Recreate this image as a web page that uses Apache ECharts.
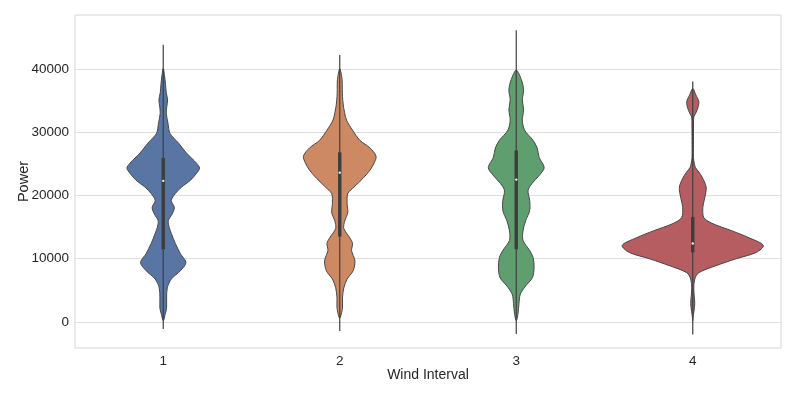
<!DOCTYPE html>
<html>
<head>
<meta charset="utf-8">
<script src="https://cdn.jsdelivr.net/npm/echarts@6/dist/echarts.min.js"></script>
<style>html,body{margin:0;padding:0;background:#fff;}#main{width:797px;height:399px;}</style>
</head>
<body>
<div id="main"></div>
<script>
const categories = ['1', '2', '3', '4'];
const yTicks = [0, 10000, 20000, 30000, 40000];
const colors = ['#5875a4', '#cc8963', '#5f9e6e', '#b55d60'];

// violin profiles: power value and relative density (70 = widest)
const violin1Power = [40100, 39000, 37500, 36200, 35100, 34000, 33000, 31400, 29800, 28300, 26700, 25100, 24300, 23500, 22400, 21300, 20300, 19200, 18100, 17100, 16000, 14900, 14000, 12400, 10800, 9400, 8100, 6800, 5400, 3800, 2200, 1300, 200];
const violin1Density = [0, 1.2, 2.3, 3.0, 4.3, 3.5, 3.0, 4.7, 6.7, 15, 23, 33, 36, 33, 27, 18, 12, 8, 11, 9, 5, 6, 8, 12, 17, 22.5, 17, 8, 4, 3.3, 3.3, 2, 0];

const violin2Power = [40000, 38300, 36700, 35600, 34300, 33500, 31900, 30300, 28700, 27500, 26200, 25100, 24000, 22700, 21300, 20300, 18700, 17300, 16000, 14800, 13300, 12400, 11300, 9700, 8100, 6800, 5400, 3800, 2200, 600];
const violin2Density = [0, 2.3, 2.5, 2.7, 3.5, 4.3, 6.7, 12.7, 20, 30, 36, 34, 30, 23, 14, 8, 7.3, 8, 5, 4, 10, 12.7, 11.7, 15, 13.3, 7.3, 4, 2.7, 2.7, 0];

const violin3Power = [39800, 38300, 36700, 35100, 33500, 31900, 30300, 28700, 27500, 26000, 24400, 23200, 21900, 20800, 19200, 17600, 16000, 14400, 12900, 11300, 10200, 8600, 7000, 5700, 4400, 2900, 1300, 200];
const violin3Density = [0, 5, 7.3, 6, 7.3, 6, 8.3, 16.7, 20.7, 22.7, 27.7, 23, 15.7, 11.7, 13.3, 13.3, 9.3, 6.7, 6.7, 13.3, 16.7, 17.7, 16, 9.3, 4, 2.7, 1.7, 0];

const violin4Power = [36900, 35900, 34800, 33800, 33000, 32400, 31100, 28700, 26000, 25100, 24400, 23700, 22900, 21300, 19700, 18100, 16500, 15600, 14400, 13300, 12100, 11000, 10000, 8900, 7800, 6800, 5400, 4100, 2900, 1700, 1000, 200];
const violin4Density = [0, 3, 6, 5, 3, 1, 0.8, 0.7, 0.7, 1.5, 2.7, 6, 9.3, 13.3, 12, 10, 11, 19, 39, 56, 70, 63, 43, 23, 6, 2, 1, 1.5, 2, 1.2, 0.5, 0];

const boxQ1 = [11500, 13500, 11500, 11000];
const boxMedian = [22300, 23600, 22500, 12400];
const boxQ3 = [25900, 26800, 27100, 16600];
const whiskerLow = [-1100, -1400, -1900, -1950];
const whiskerHigh = [43800, 42200, 46100, 38000];

const profiles = [
  [violin1Power, violin1Density],
  [violin2Power, violin2Density],
  [violin3Power, violin3Density],
  [violin4Power, violin4Density]
];

const FONT = 'Liberation Sans, Arial, Helvetica, sans-serif';

function renderItem(params, api) {
  const i = params.dataIndex;
  const pw = profiles[i][0], dens = profiles[i][1];
  const cx = api.coord([i, 0])[0];
  const band = api.size([1, 0])[0];
  const scale = 0.4 * band / 70;
  const right = [], left = [];
  for (let k = 0; k < pw.length; k++) {
    const y = api.coord([i, pw[k]])[1];
    const hw = dens[k] * scale;
    right.push([cx + hw, y]);
    left.push([cx - hw, y]);
  }
  const pts = right.concat(left.slice(1, -1).reverse());
  const yHi = api.coord([i, whiskerHigh[i]])[1];
  const yLo = api.coord([i, whiskerLow[i]])[1];
  const yQ1 = api.coord([i, boxQ1[i]])[1];
  const yQ3 = api.coord([i, boxQ3[i]])[1];
  const yMed = api.coord([i, boxMedian[i]])[1];
  return {
    type: 'group',
    children: [
      { type: 'polygon', shape: { points: pts, smooth: 0.3 }, style: { fill: colors[i], stroke: '#474747', lineWidth: 1 } },
      { type: 'line', shape: { x1: cx, y1: yHi, x2: cx, y2: yLo }, style: { stroke: '#404040', lineWidth: 1.2 } },
      { type: 'rect', shape: { x: cx - 1.7, y: yQ3, width: 3.4, height: yQ1 - yQ3 }, style: { fill: '#3d3d3d' } },
      { type: 'circle', shape: { cx: cx, cy: yMed, r: 1.2 }, style: { fill: '#f0f0f0' } }
    ]
  };
}

const chart = echarts.init(document.getElementById('main'), null, { renderer: 'canvas' });
chart.setOption({
  animation: false,
  backgroundColor: '#ffffff',
  grid: { left: 75, right: 16, top: 15, bottom: 51, show: true, borderColor: '#d6d6d6', borderWidth: 1, backgroundColor: 'transparent', containLabel: false, outerBoundsMode: 'none' },
  xAxis: {
    type: 'category',
    data: categories,
    boundaryGap: true,
    axisLine: { show: false },
    axisTick: { show: false },
    splitLine: { show: false },
    axisLabel: { color: '#262626', fontSize: 13.5, fontFamily: FONT, margin: 6 },
    name: 'Wind Interval',
    nameLocation: 'middle',
    nameGap: 20,
    nameMoveOverlap: false,
    nameTextStyle: { color: '#262626', fontSize: 14, fontFamily: FONT }
  },
  yAxis: {
    type: 'value',
    min: -4100,
    max: 48500,
    axisLine: { show: false },
    axisTick: { show: false },
    splitLine: { show: false },
    axisLabel: { customValues: yTicks, formatter: v => String(v), color: '#262626', fontSize: 13.5, fontFamily: FONT, margin: 6 },
    name: 'Power',
    nameLocation: 'middle',
    nameGap: 44,
    nameRotate: 90,
    nameMoveOverlap: false,
    nameTextStyle: { color: '#262626', fontSize: 14.5, fontFamily: FONT }
  },
  series: [
    {
      type: 'line',
      data: [],
      silent: true,
      z: 0,
      markLine: {
        silent: true,
        z: 0,
        symbol: 'none',
        label: { show: false },
        lineStyle: { color: '#dedede', type: 'solid', width: 1 },
        data: yTicks.map(v => ({ yAxis: v }))
      }
    },
    {
      type: 'custom',
      renderItem: renderItem,
      z: 10,
      data: categories.map((c, i) => [i, boxMedian[i]]),
      encode: { x: 0, y: 1 }
    }
  ]
});
</script>
</body>
</html>
